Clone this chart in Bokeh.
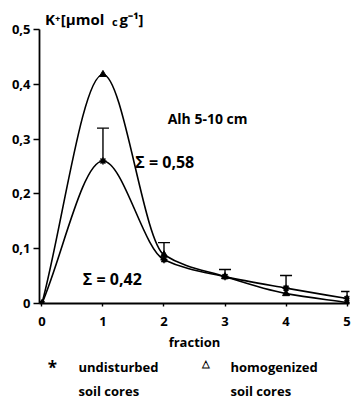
from bokeh.plotting import figure
from bokeh.layouts import column
from bokeh.models import (Range1d, FixedTicker, CustomJSTickFormatter, Label,
                          Whisker, TeeHead, ColumnDataSource)
from bokeh.embed import file_html
from bokeh.resources import INLINE

# ---- data ----
fraction = [0, 1, 2, 3, 4, 5]
undisturbed = [0.0, 0.26, 0.08, 0.049, 0.028, 0.009]
homogenized = [0.0, 0.418, 0.089, 0.049, 0.018, 0.002]
undisturbed_err_top = [0.32, 0.111, 0.062, 0.051, 0.022]
err_fraction = [1, 2, 3, 4, 5]
y_ticks = [0, 0.1, 0.2, 0.3, 0.4, 0.5]
x_ticks = [0, 1, 2, 3, 4, 5]

FONT = "Open Sans"
BORDER_L, BORDER_R = 39, 3

# ---------- main plot ----------
# frame extends a little above 0.5 so the unit label sits inside it
p = figure(width=352, height=356, output_backend="svg", toolbar_location=None,
           title=None, x_range=Range1d(-0.04, 5.04), y_range=Range1d(0, 0.5438),
           min_border_left=BORDER_L, min_border_right=BORDER_R, min_border_top=5,
           min_border_bottom=53)
p.background_fill_color = "white"
p.border_fill_color = "white"
p.outline_line_color = None
p.grid.visible = False


def monotone_beziers(xs, ys):
    n = len(xs)
    h = [xs[i + 1] - xs[i] for i in range(n - 1)]
    d = [(ys[i + 1] - ys[i]) / h[i] for i in range(n - 1)]
    m = [0.0] * n
    m[0] = d[0]
    m[-1] = d[-1]
    for i in range(1, n - 1):
        if d[i - 1] * d[i] <= 0:
            m[i] = 0.0
        else:
            w1 = 2 * h[i] + h[i - 1]
            w2 = h[i] + 2 * h[i - 1]
            m[i] = (w1 + w2) / (w1 / d[i - 1] + w2 / d[i])
    segs = dict(x0=[], y0=[], x1=[], y1=[], cx0=[], cy0=[], cx1=[], cy1=[])
    for i in range(n - 1):
        segs["x0"].append(xs[i]); segs["y0"].append(ys[i])
        segs["x1"].append(xs[i + 1]); segs["y1"].append(ys[i + 1])
        segs["cx0"].append(xs[i] + h[i] / 3); segs["cy0"].append(ys[i] + m[i] * h[i] / 3)
        segs["cx1"].append(xs[i + 1] - h[i] / 3); segs["cy1"].append(ys[i + 1] - m[i + 1] * h[i] / 3)
    return ColumnDataSource(segs)


for series in (undisturbed, homogenized):
    src = monotone_beziers(fraction, series)
    p.bezier(x0="x0", y0="y0", x1="x1", y1="y1", cx0="cx0", cy0="cy0",
             cx1="cx1", cy1="cy1", source=src, line_color="black", line_width=1.6)

# error bars (upper only) on undisturbed
err_src = ColumnDataSource(dict(x=err_fraction, lower=undisturbed[1:], upper=undisturbed_err_top))
p.add_layout(Whisker(base="x", lower="lower", upper="upper", source=err_src,
                     dimension="height", line_color="black", line_width=1.4,
                     upper_head=TeeHead(size=12, line_color="black", line_width=1.4),
                     lower_head=None))

p.scatter(fraction, undisturbed, marker="asterisk", size=7, line_color="black", line_width=1.6)
p.scatter(fraction, homogenized, marker="triangle", size=7, fill_color="black",
          line_color="black", line_width=1)

# axes
for ax in (p.xaxis[0], p.yaxis[0]):
    ax.axis_line_color = "black"
    ax.axis_line_width = 1.8
    ax.major_tick_line_color = "black"
    ax.major_tick_line_width = 1.4
    ax.major_tick_in = 0
    ax.minor_tick_line_color = None
    ax.major_label_text_font = FONT
    ax.major_label_text_font_style = "bold"
    ax.major_label_text_font_size = "13px"
    ax.major_label_text_color = "black"

p.yaxis[0].ticker = FixedTicker(ticks=y_ticks)
p.yaxis[0].bounds = (0, 0.5)
p.yaxis[0].major_tick_out = 6
p.yaxis[0].major_label_standoff = 3
p.yaxis[0].formatter = CustomJSTickFormatter(
    code="return tick < 1e-9 ? '0' : tick.toFixed(1).replace('.', ',');")

p.xaxis[0].ticker = FixedTicker(ticks=x_ticks)
p.xaxis[0].major_tick_out = 3
p.xaxis[0].major_label_standoff = 10
p.xaxis[0].axis_label = "fraction"
p.xaxis[0].axis_label_text_font = FONT
p.xaxis[0].axis_label_text_font_style = "bold"
p.xaxis[0].axis_label_text_font_size = "13px"
p.xaxis[0].axis_label_text_color = "black"
p.xaxis[0].axis_label_standoff = 4


def lab(fig, x, y, text, size="13px", align="left", baseline="middle"):
    fig.add_layout(Label(x=x, y=y, text=text, text_font=FONT, text_font_style="bold",
                         text_font_size=size, text_color="black", text_align=align,
                         text_baseline=baseline))


# unit label (inside the extended frame, above the 0,5 tick)
lab(p, 0.05, 0.520, "K⁺", size="15px", baseline="alphabetic")
lab(p, 0.31, 0.520, "[µmol", size="15px", baseline="alphabetic")
lab(p, 1.15, 0.5137, "c", size="11px", baseline="alphabetic")
lab(p, 1.27, 0.520, "g⁻¹]", size="15px", baseline="alphabetic")

lab(p, 2.06, 0.3376, "Alh 5-10 cm", size="14px")
lab(p, 1.53, 0.259, "Σ = 0,58", size="16px")
lab(p, 0.67, 0.0456, "Σ = 0,42", size="16px")

# ---------- legend strip (x/y in canvas pixels; frame aligned with the main plot) ----------
leg = figure(width=352, height=46, output_backend="svg", toolbar_location=None,
             title=None, x_axis_location=None, y_axis_location=None,
             x_range=Range1d(BORDER_L, 352 - BORDER_R), y_range=Range1d(402, 356),
             min_border_left=BORDER_L, min_border_right=BORDER_R,
             min_border_top=0, min_border_bottom=0)
leg.grid.visible = False
leg.outline_line_color = None
leg.background_fill_color = "white"
leg.border_fill_color = "white"

lab(leg, 52, 367, "*", size="17px", align="center")
lab(leg, 78, 366, "undisturbed")
lab(leg, 78, 390, "soil cores")
lab(leg, 205, 362, "△", size="10px", align="center")
lab(leg, 230, 366, "homogenized")
lab(leg, 230, 390, "soil cores")

open("out.html", "w").write(file_html(column(p, leg), INLINE))
